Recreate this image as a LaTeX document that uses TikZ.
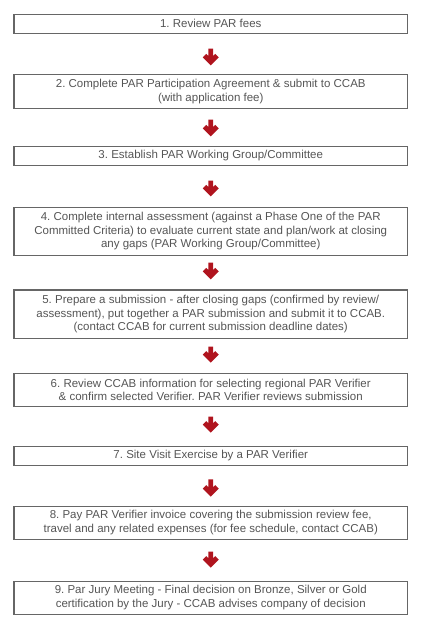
\documentclass[tikz,border=0pt]{standalone}
\usepackage{fontspec}
\setmainfont{Liberation Sans}
\usetikzlibrary{calc}
\frenchspacing
\definecolor{boxgray}{HTML}{666666}
\definecolor{textgray}{HTML}{555555}
\definecolor{arrred}{HTML}{B0141E}
\tikzset{
  stepbox/.style={draw=boxgray, line width=1.3pt, inner sep=0pt,
    minimum width=393.5pt, text=textgray, align=center,
    font=\fontsize{11.5}{13.6}\selectfont\frenchspacing},
  parr/.style={fill=arrred, draw=none, to path={
    let \p1=(\tikztostart), \p2=(\tikztotarget) in
    (\x1-2.3pt,\y1) -- (\x1+2.3pt,\y1) -- (\x1+2.3pt,\y2+9.4pt)
    -- (\x1+4.5pt,\y2+11.6pt) -- (\x1+8pt,\y2+8pt) -- (\x1,\y2)
    -- (\x1-8pt,\y2+8pt) -- (\x1-4.5pt,\y2+11.6pt) -- (\x1-2.3pt,\y2+9.4pt) -- cycle
  }}
}
\begin{document}
\begin{tikzpicture}[x=1pt,y=-1pt]
\useasboundingbox (0,0) rectangle (423,630);
\node[stepbox, minimum height=19pt] (b1) at (210.75,23.8) {1. Review PAR fees};
\node[stepbox, minimum height=34pt] (b2) at (210.75,91.3) {2. Complete PAR Participation Agreement \& submit to CCAB\\(with application fee)};
\node[stepbox, minimum height=19pt] (b3) at (210.75,155.8) {3. Establish PAR Working Group/Committee};
\node[stepbox, minimum height=48pt] (b4) at (210.75,231.3) {4. Complete internal assessment (against a Phase One of the PAR\\Committed Criteria) to evaluate current state and plan/work at closing\\any gaps (PAR Working Group/Committee)};
\node[stepbox, minimum height=48.3pt] (b5) at (210.75,314.15) {5. Prepare a submission - after closing gaps (confirmed by review/\\assessment), put together a PAR submission and submit it to CCAB.\\(contact CCAB for current submission deadline dates)};
\node[stepbox, minimum height=33pt] (b6) at (210.75,389.8) {6. Review CCAB information for selecting regional PAR Verifier\\\& confirm selected Verifier. PAR Verifier reviews submission};
\node[stepbox, minimum height=19pt] (b7) at (210.75,455.8) {7. Site Visit Exercise by a PAR Verifier};
\node[stepbox, minimum height=33pt] (b8) at (210.75,522.8) {8. Pay PAR Verifier invoice covering the submission review fee,\\travel and any related expenses (for fee schedule, contact CCAB)};
\node[stepbox, minimum height=33pt] (b9) at (210.75,597.8) {9. Par Jury Meeting - Final decision on Bronze, Silver or Gold\\certification by the Jury - CCAB advises company of decision};
\fill[parr] ([yshift=-14.7pt]b1.south) to ([yshift=8.3pt]b2.north);
\fill[parr] ([yshift=-10.7pt]b2.south) to ([yshift=9.3pt]b3.north);
\fill[parr] ([yshift=-14.7pt]b3.south) to ([yshift=10.3pt]b4.north);
\fill[parr] ([yshift=-6.7pt]b4.south) to ([yshift=10pt]b5.north);
\fill[parr] ([yshift=-7.7pt]b5.south) to ([yshift=10pt]b6.north);
\fill[parr] ([yshift=-9.7pt]b6.south) to ([yshift=13pt]b7.north);
\fill[parr] ([yshift=-13.4pt]b7.south) to ([yshift=9pt]b8.north);
\fill[parr] ([yshift=-11.7pt]b8.south) to ([yshift=13pt]b9.north);
\end{tikzpicture}
\end{document}
